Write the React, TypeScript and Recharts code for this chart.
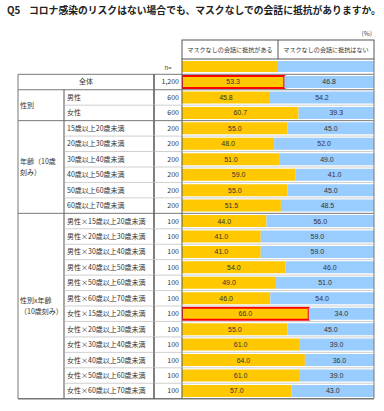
import React from "react";
import { BarChart, Bar, XAxis, YAxis, Cell, LabelList } from "recharts";

const labels = [
  "全体",
  "男性", "女性",
  "15歳以上20歳未満", "20歳以上30歳未満", "30歳以上40歳未満",
  "40歳以上50歳未満", "50歳以上60歳未満", "60歳以上70歳未満",
  "男性×15歳以上20歳未満", "男性×20歳以上30歳未満", "男性×30歳以上40歳未満",
  "男性×40歳以上50歳未満", "男性×50歳以上60歳未満", "男性×60歳以上70歳未満",
  "女性×15歳以上20歳未満", "女性×20歳以上30歳未満", "女性×30歳以上40歳未満",
  "女性×40歳以上50歳未満", "女性×50歳以上60歳未満", "女性×60歳以上70歳未満",
];
const nValues = [1200, 600, 600, 200, 200, 200, 200, 200, 200, 100, 100, 100, 100, 100, 100, 100, 100, 100, 100, 100, 100];
const resist = [53.3, 45.8, 60.7, 55.0, 48.0, 51.0, 59.0, 55.0, 51.5, 44.0, 41.0, 41.0, 54.0, 49.0, 46.0, 66.0, 55.0, 61.0, 64.0, 61.0, 57.0];
const noResist = [46.8, 54.2, 39.3, 45.0, 52.0, 49.0, 41.0, 45.0, 48.5, 56.0, 59.0, 59.0, 46.0, 51.0, 54.0, 34.0, 45.0, 39.0, 36.0, 39.0, 43.0];
const highlighted = [0, 15];

const groupLabels = [["全体"], ["性別"], ["年齢（10歳", "刻み）"], ["性別x年齢", "（10歳刻み）"]];
const groupSizes = [1, 2, 6, 12];

const seriesNames = ["マスクなしの会話に抵抗がある", "マスクなしの会話に抵抗はない"];
const title = "コロナ感染のリスクはない場合でも、マスクなしでの会話に抵抗がありますか。";

const YELLOW = "#ffc800";
const BLUE = "#99ccff";
const FONT = "'Noto Sans CJK JP', 'Noto Sans', sans-serif";

const W = 384;
const H = 411;
const MARGIN = { top: 74.3, right: 10, bottom: 12.3, left: 0 };
const ROW_H = (H - MARGIN.top - MARGIN.bottom) / labels.length;

const data = labels.map((label, i) => ({ label, n: nValues[i], yes: resist[i], no: noResist[i] }));

const groupOf: number[] = [];
const groupStart: number[] = [];
groupSizes.forEach((s, g) => {
  groupStart.push(groupOf.length);
  for (let k = 0; k < s; k++) groupOf.push(g);
});

const LEFT = 18, COL_LABEL = 64, COL_N = 154, COL_BAR = 182, RIGHT = 374;

function RowTick(props: any) {
  const { y, payload } = props;
  const i = labels.indexOf(payload.value);
  const g = groupOf[i];
  const top = y - ROW_H / 2;
  const bottom = y + ROW_H / 2;
  const first = groupStart[g] === i;
  const last = i === labels.length - 1;
  const groupMid = top + (groupSizes[g] * ROW_H) / 2;
  const lines = groupLabels[g];
  return (
    <g fontFamily={FONT}>
      {first ? (
        <line x1={LEFT} x2={RIGHT} y1={top} y2={top} stroke="#777" strokeWidth={1} />
      ) : (
        <line x1={COL_LABEL} x2={RIGHT} y1={top} y2={top} stroke="#cfcfcf" strokeWidth={1} />
      )}
      {last && <line x1={LEFT} x2={RIGHT} y1={bottom} y2={bottom} stroke="#777" strokeWidth={1.5} />}
      <line x1={LEFT} x2={LEFT} y1={top} y2={bottom} stroke="#777" />
      {g > 0 && <line x1={COL_LABEL} x2={COL_LABEL} y1={top} y2={bottom} stroke="#555" />}
      <line x1={COL_N} x2={COL_N} y1={top} y2={bottom} stroke="#555" strokeWidth={1.5} />
      <line x1={COL_BAR} x2={COL_BAR} y1={top} y2={bottom} stroke="#555" />
      <line x1={RIGHT} x2={RIGHT} y1={top} y2={bottom} stroke="#777" />
      {g === 0 ? (
        <text x={(LEFT + COL_N) / 2} y={y} dy="0.35em" textAnchor="middle" fontSize={7} fill="#333">
          {payload.value}
        </text>
      ) : (
        <text x={COL_LABEL + 3} y={y} dy="0.35em" textAnchor="start" fontSize={7} fill="#333">
          {payload.value}
        </text>
      )}
      <text x={COL_BAR - 3} y={y} dy="0.35em" textAnchor="end" fontSize={7} fill="#333">
        {nValues[i].toLocaleString("en-US")}
      </text>
      {first && g > 0 && (
        <text x={LEFT + 2} y={groupMid} fontSize={7} fill="#333">
          {lines.map((t, k) => (
            <tspan key={k} x={LEFT + 2} y={groupMid + (k - (lines.length - 1) / 2) * 11.5} dy="0.35em">
              {t}
            </tspan>
          ))}
        </text>
      )}
    </g>
  );
}

const fmt = (v: any) => Number(v).toFixed(1);

export default function App() {
  const mid = (COL_BAR + RIGHT) / 2;
  return (
    <div style={{ position: "absolute", left: 0, top: 0, width: W, height: H, background: "#fff", fontFamily: FONT }}>
      <div style={{ position: "absolute", left: 7, top: 3, fontSize: 9.8, fontWeight: 700, color: "#222", whiteSpace: "nowrap", lineHeight: "14px" }}>
        <span>Q5</span>
        <span style={{ position: "absolute", left: 22 }}>{title}</span>
      </div>
      <svg width={W} height={80} style={{ position: "absolute", left: 0, top: 0 }} fontFamily={FONT}>
        <text x={RIGHT - 2} y={34} dy="0.35em" textAnchor="end" fontSize={6.5} fill="#444">(%)</text>
        <rect x={COL_BAR} y={40} width={RIGHT - COL_BAR} height={19} fill="#fff" stroke="#555" />
        <line x1={mid} x2={mid} y1={40} y2={59} stroke="#555" />
        <text x={(COL_BAR + mid) / 2} y={50} dy="0.35em" textAnchor="middle" fontSize={6.1} fill="#333">{seriesNames[0]}</text>
        <text x={(mid + RIGHT) / 2} y={50} dy="0.35em" textAnchor="middle" fontSize={6.1} fill="#333">{seriesNames[1]}</text>
        <rect x={COL_BAR} y={61} width={mid - COL_BAR} height={11} fill={YELLOW} />
        <rect x={mid} y={61} width={RIGHT - mid} height={11} fill={BLUE} />
        <line x1={COL_BAR} x2={COL_BAR} y1={59} y2={74.3} stroke="#555" />
        <line x1={RIGHT} x2={RIGHT} y1={59} y2={74.3} stroke="#777" />
        <text x={168} y={68} dy="0.35em" textAnchor="middle" fontSize={6} fill="#444">n=</text>
      </svg>
      <div style={{ position: "absolute", left: 0, top: 0 }}>
        <BarChart width={W} height={H} data={data} layout="vertical" margin={MARGIN} barCategoryGap="11%">
          <XAxis type="number" domain={[0, 100]} hide allowDataOverflow />
          <YAxis
            type="category"
            dataKey="label"
            width={COL_BAR}
            axisLine={false}
            tickLine={false}
            interval={0}
            tick={<RowTick />}
          />
          <Bar dataKey="yes" stackId="a" fill={YELLOW} isAnimationActive={false}>
            {data.map((_, i) => (
              <Cell
                key={i}
                fill={YELLOW}
                stroke={highlighted.includes(i) ? "#ff0000" : "none"}
                strokeWidth={highlighted.includes(i) ? 2 : 0}
              />
            ))}
            <LabelList dataKey="yes" position="center" formatter={fmt} fontSize={7} fill="#333" fontFamily="'Liberation Sans', Arial, sans-serif" />
          </Bar>
          <Bar dataKey="no" stackId="a" fill={BLUE} isAnimationActive={false}>
            <LabelList dataKey="no" position="center" formatter={fmt} fontSize={7} fill="#333" fontFamily="'Liberation Sans', Arial, sans-serif" />
          </Bar>
        </BarChart>
      </div>
    </div>
  );
}
